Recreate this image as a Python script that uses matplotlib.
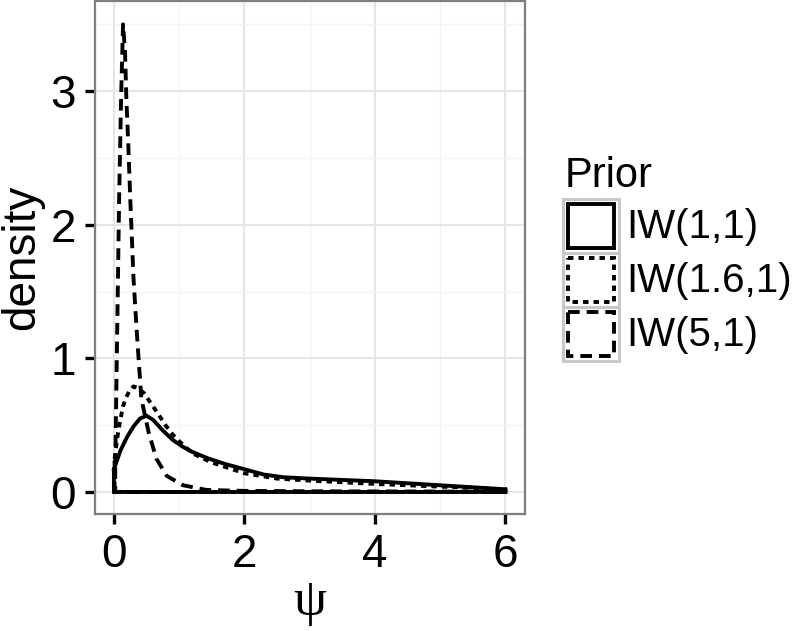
import matplotlib
matplotlib.use("Agg")
import matplotlib.pyplot as plt
from matplotlib.patches import Rectangle

plt.rcParams['font.family'] = ['Liberation Sans', 'DejaVu Sans']

# density curves
x_iw11 = [0.0, 0.05, 0.1, 0.2, 0.3, 0.4, 0.5, 0.6, 0.75, 0.9, 1.05, 1.2, 1.45, 1.7, 2.0, 2.3,
          2.6, 3.0, 3.5, 4.0, 4.5, 5.0, 5.5, 6.0]
y_iw11 = [0.17, 0.24, 0.31, 0.41, 0.49, 0.55, 0.57, 0.54, 0.46, 0.39, 0.34, 0.3, 0.25, 0.21, 0.17, 0.13,
          0.11, 0.1, 0.09, 0.08, 0.065, 0.05, 0.035, 0.02]

x_iw161 = [0.01, 0.05, 0.09, 0.14, 0.18, 0.24, 0.3, 0.36, 0.46, 0.53, 0.67, 0.79, 0.9, 1.0, 1.2, 1.5,
           2.0, 2.5, 3.0, 4.0, 5.0, 6.0]
y_iw161 = [0.25, 0.4, 0.52, 0.64, 0.7, 0.76, 0.79, 0.78, 0.74, 0.69, 0.59, 0.5, 0.43, 0.38, 0.29, 0.22,
           0.14, 0.1, 0.085, 0.06, 0.04, 0.02]

x_iw51 = [0.02, 0.05, 0.08, 0.11, 0.14, 0.17, 0.19, 0.22, 0.25, 0.3, 0.35, 0.42, 0.53, 0.65, 0.81,
          1.06, 1.42, 2.0, 3.0, 4.0, 5.0, 6.0]
y_iw51 = [0.2, 1.2, 2.2, 2.95, 3.5, 3.3, 2.95, 2.6, 2.2, 1.6, 1.2, 0.7, 0.45, 0.25, 0.12,
          0.05, 0.015, 0.008, 0.005, 0.004, 0.003, 0.002]

labels = ['IW(1,1)', 'IW(1.6,1)', 'IW(5,1)']
series = [(x_iw11, y_iw11), (x_iw161, y_iw161), (x_iw51, y_iw51)]
dashes = [None, (1.4, 1.3), (3.0, 1.8)]

fig = plt.figure(figsize=(8, 6.31), dpi=100)
ax = fig.add_axes([95 / 800, 1 - 514 / 631, 430 / 800, 513 / 631])

# closed outlines like geom_density
for (xs, ys), d in zip(series, dashes):
    px = list(xs) + [xs[-1], xs[0], xs[0]]
    py = list(ys) + [0, 0, ys[0]]
    line, = ax.plot(px, py, color='black', lw=2.8, solid_joinstyle='miter')
    if d is not None:
        line.set_dashes(d)

ax.set_xlim(-0.29, 6.3)
ax.set_ylim(-0.165, 3.675)
ax.set_xticks([0, 2, 4, 6])
ax.set_yticks([0, 1, 2, 3])
ax.set_xticks([1, 3, 5], minor=True)
ax.set_yticks([0.5, 1.5, 2.5, 3.5], minor=True)
ax.grid(which='major', color='#E5E5E5', lw=1.4)
ax.grid(which='minor', color='#F3F3F3', lw=1.0)
ax.set_axisbelow(True)
ax.tick_params(which='major', length=7.5, width=2.4, color='black', labelsize=33, pad=6)
ax.tick_params(which='minor', length=0)
for s in ax.spines.values():
    s.set_color('#7F7F7F')
    s.set_linewidth(1.6)

ax.set_xlabel('ψ', fontsize=38, family=['Liberation Serif', 'DejaVu Serif'])
ax.xaxis.set_label_coords(0.5, -0.125)
ax.set_ylabel('density', fontsize=33)
ax.yaxis.set_label_coords(-0.118, 0.5)

# legend drawn by hand in pixel coordinates
lg = fig.add_axes([0, 0, 1, 1])
lg.set_xlim(0, 800)
lg.set_ylim(631, 0)
lg.axis('off')
lg.text(565, 187, 'Prior', fontsize=30, va='baseline', ha='left')
for i, (lab, d) in enumerate(zip(labels, dashes)):
    top = 199 + i * 54
    lg.add_patch(Rectangle((563, top), 56, 54, fill=False, ec='#C8C8C8', lw=2.2))
    r = Rectangle((568, top + 5), 46, 44, fill=False, ec='black', lw=2.8)
    if d is not None:
        r.set_linestyle((0, d))
    lg.add_patch(r)
    lg.text(626, top + 28, lab, fontsize=29, va='center', ha='left')

fig.savefig('out.png', dpi=100)
